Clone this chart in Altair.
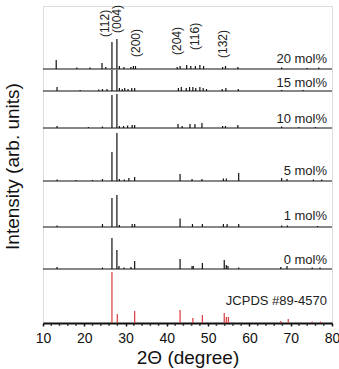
import altair as alt
import pandas as pd

# ---- data (2-theta in degrees, peak heights in arbitrary intensity units) ----
samples = ["JCPDS #89-4570", "0 mol%", "1 mol%", "5 mol%", "10 mol%", "15 mol%", "20 mol%"]
offsets = [0, 54, 96, 142, 195, 232, 254]
label_gap = [18, 5, 7, 6, 5, 4, 6]

jcpds_pos = [26.7, 28.0, 32.2, 43.2, 46.3, 48.6, 53.9, 54.4, 54.9, 67.6, 69.4, 75.2, 77.2]
jcpds_int = [51, 9, 12, 13, 5, 8, 10, 6, 6, 2, 4, 1.5, 1.5]

m0_pos = [13.4, 24.4, 26.7, 27.9, 28.4, 29.6, 31.3, 32.2, 43.2, 46.1, 46.4, 48.6, 53.9, 54.4, 54.8, 57.4, 67.6, 69.1, 75.2, 77.1]
m0_int = [2, 1.5, 31, 19, 3, 1.5, 2, 8, 10, 3, 3, 6, 9, 4, 3, 1.5, 2, 3, 1.5, 1.5]

m1_pos = [13.4, 24.4, 26.7, 27.9, 28.5, 31.6, 32.2, 43.2, 46.2, 48.6, 53.7, 54.6, 57.4, 67.8, 69.2, 76.5]
m1_int = [1.5, 3, 29, 32, 2, 3, 3, 8.5, 3, 3, 3, 3, 3, 1.5, 1.5, 1]

m5_pos = [13.4, 18.0, 22.0, 24.4, 26.7, 27.9, 28.5, 29.7, 30.8, 32.2, 43.2, 46.1, 48.5, 53.7, 54.4, 57.4, 67.8, 69.1, 75.5, 77.5]
m5_int = [1.5, 1, 1, 2, 29, 48, 2, 1.5, 3, 4, 7, 2, 2, 2.5, 2.5, 8, 3, 2, 1.5, 1.5]

m10_pos = [13.4, 21.0, 24.4, 26.7, 27.9, 28.5, 29.5, 30.5, 31.6, 32.2, 42.7, 43.7, 45.6, 46.8, 48.5, 53.5, 54.2, 57.2, 67.8, 72.0, 76.0]
m10_int = [2, 1, 1.5, 33, 34, 2, 2, 2.5, 3, 3, 4, 2, 4, 4, 5, 2, 2, 3, 1.5, 1, 1]

m15_pos = [13.4, 19.0, 23.5, 24.4, 25.5, 26.7, 27.9, 28.5, 29.2, 29.8, 30.6, 31.5, 32.2, 42.8, 43.5, 44.7, 45.5, 46.3, 47.0, 48.0, 48.8, 49.6, 53.4, 54.3, 57.3, 67.8, 73.0]
m15_int = [4, 1, 1.5, 2, 2, 21, 21, 3, 2, 3, 2, 3, 3, 3, 4, 3, 4, 4, 3, 4, 3, 2, 2, 3, 2, 1, 1]

m20_pos = [13.2, 18.2, 21.4, 24.3, 25.2, 26.7, 27.9, 28.5, 29.6, 31.3, 31.9, 32.4, 42.5, 43.2, 44.8, 45.8, 46.9, 48.0, 48.9, 53.5, 54.2, 57.2, 67.8, 74.0, 76.8]
m20_int = [9, 1.5, 1.5, 6, 2, 27, 30, 3, 2, 2, 3, 3, 2, 3, 4, 3, 3, 4, 3, 2, 3, 2, 1.5, 1, 1.5]

hkl_labels = ["(112)", "(004)", "(200)", "(204)", "(116)", "(132)"]
hkl_pos = [25.0, 27.9, 32.5, 42.4, 46.8, 53.6]
hkl_level = [286, 290, 266, 268, 273, 265]

major_ticks = [10, 20, 30, 40, 50, 60, 70, 80]
minor_ticks = [v for v in range(10, 81, 2) if v % 10 != 0]

# ---- tables ----
peak_sets = [(jcpds_pos, jcpds_int), (m0_pos, m0_int), (m1_pos, m1_int), (m5_pos, m5_int),
             (m10_pos, m10_int), (m15_pos, m15_int), (m20_pos, m20_int)]
rows = []
for name, off, (pp, ii) in zip(samples, offsets, peak_sets):
    for p, i in zip(pp, ii):
        rows.append({"sample": name, "theta": p, "y0": off, "y1": off + i})
peaks = pd.DataFrame(rows)

base = pd.DataFrame({"sample": samples[1:], "x0": 10, "x1": 80, "y": offsets[1:]})
labels = pd.DataFrame({"sample": samples, "x": 80,
                       "y": [o + g for o, g in zip(offsets, label_gap)]})
hkl = pd.DataFrame({"t": hkl_labels, "x": hkl_pos, "y": hkl_level})
minor = pd.DataFrame({"x": minor_ticks})

FONT = "Liberation Sans"
xscale = alt.Scale(domain=[10, 80], nice=False, zero=False)
yscale = alt.Scale(domain=[0, 317], nice=False, zero=True)
color = alt.Color("sample:N", scale=alt.Scale(domain=samples,
                  range=["#d83a3f"] + ["#111111"] * 6), legend=None)

xaxis = alt.Axis(title="2Θ (degree)", values=major_ticks, format="d",
                 labelOverlap=False,
                 labelFont=FONT, labelFontSize=14, labelColor="#111",
                 labelPadding=5, labelFlush=False,
                 tickSize=3, tickColor="#111", tickWidth=1.5,
                 domainColor="#111", domainWidth=2, grid=False,
                 titleFont=FONT, titleFontSize=19, titleFontWeight="normal",
                 titleColor="#111", titleY=40, titleBaseline="alphabetic")
yaxis = alt.Axis(title="Intensity (arb. units)", labels=False, ticks=False,
                 domain=False, grid=False,
                 titleFont=FONT, titleFontSize=19, titleFontWeight="normal",
                 titleColor="#111", titleX=-31, titleY=160, titleAngle=270,
                 titleAlign="center", titleBaseline="middle")

baselines = alt.Chart(base).mark_rule(strokeWidth=1.2, color="#111").encode(
    x=alt.X("x0:Q", scale=xscale, axis=xaxis), x2="x1:Q",
    y=alt.Y("y:Q", scale=yscale, axis=yaxis),
)

sticks = alt.Chart(peaks).mark_rule(strokeWidth=1.2).encode(
    x=alt.X("theta:Q", scale=xscale),
    y=alt.Y("y0:Q", scale=yscale),
    y2="y1:Q",
    color=color,
)

minor_marks = alt.Chart(minor).mark_tick(orient="vertical", size=3, thickness=1.5,
                                         color="#111").encode(
    x=alt.X("x:Q", scale=xscale), y=alt.value(318.5))

names = alt.Chart(labels).mark_text(align="right", baseline="alphabetic", dx=-5,
                                    font=FONT, fontSize=13, color="#222").encode(
    x=alt.X("x:Q", scale=xscale), y=alt.Y("y:Q", scale=yscale), text="sample:N")

hkl_text = alt.Chart(hkl).mark_text(angle=270, align="left", baseline="middle",
                                    font=FONT, fontSize=12, color="#222").encode(
    x=alt.X("x:Q", scale=xscale), y=alt.Y("y:Q", scale=yscale), text="t:N")

chart = alt.layer(baselines, sticks, minor_marks, names, hkl_text).properties(
    width=289, height=317,
    autosize=alt.AutoSizeParams(type="none"),
    padding={"left": 43, "top": 6, "right": 7, "bottom": 46},
).configure_view(stroke="#111", strokeWidth=2).configure(background="white")

chart.save("out.html", embed_options={"renderer": "svg", "actions": False})
